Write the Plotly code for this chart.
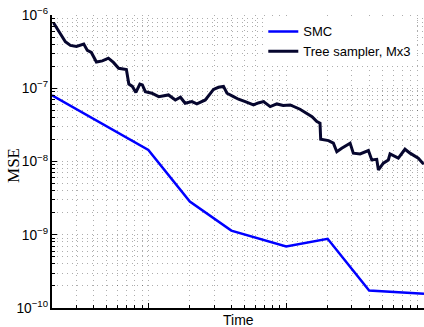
import plotly.graph_objects as go

# ---- data ----
smc_time = [2, 10, 20, 40, 100, 200, 400, 1000]
smc_mse = [8.0e-8, 1.44e-8, 2.84e-9, 1.14e-9, 6.9e-10, 8.8e-10, 1.73e-10, 1.56e-10]

tree_time = [2.05, 2.50, 2.72, 3.01, 3.40, 3.61, 3.86, 4.20, 4.64, 5.13,
             5.58, 6.09, 6.93, 7.22, 7.66, 8.12, 8.68, 9.05, 9.51, 10.6,
             11.9, 12.9, 14.0, 15.7, 17.1, 18.5, 20.7, 22.5, 25.9, 29.7,
             32.3, 35.1, 37.2, 41.5, 45.1, 50.5, 57.9, 62.7, 68.5, 76.6,
             85.6, 95.1, 107, 126, 141, 154, 167, 176, 178, 203,
             220, 233, 253, 291, 307, 344, 395, 418, 454, 467,
             507, 551, 567, 617, 651, 728, 792, 909, 979, 1000]
tree_mse = [7.85e-7, 4.32e-7, 3.84e-7, 3.72e-7, 4.02e-7, 3.28e-7, 3.08e-7, 2.28e-7, 2.36e-7, 2.57e-7,
            2.25e-7, 1.87e-7, 1.80e-7, 1.14e-7, 1.06e-7, 8.76e-8, 1.14e-7, 1.11e-7, 8.99e-8, 8.55e-8,
            7.68e-8, 7.85e-8, 8.10e-8, 6.92e-8, 7.54e-8, 6.24e-8, 6.56e-8, 6.14e-8, 6.92e-8, 9.63e-8,
            1.03e-7, 1.06e-7, 8.55e-8, 7.68e-8, 7.08e-8, 6.56e-8, 5.92e-8, 6.30e-8, 6.56e-8, 5.61e-8,
            6.11e-8, 5.83e-8, 5.92e-8, 5.17e-8, 4.56e-8, 4.10e-8, 3.50e-8, 3.33e-8, 2.01e-8, 1.93e-8,
            1.78e-8, 1.36e-8, 1.52e-8, 1.78e-8, 1.30e-8, 1.27e-8, 1.41e-8, 1.05e-8, 1.07e-8, 7.68e-9,
            9.48e-9, 1.05e-8, 1.27e-8, 1.17e-8, 1.11e-8, 1.47e-8, 1.30e-8, 1.11e-8, 9.48e-9, 9.57e-9]

series_names = ["SMC", "Tree sampler, Mx3"]
x_title = "Time"
y_title = "MSE"

fig = go.Figure()
fig.add_trace(go.Scatter(x=smc_time, y=smc_mse, mode="lines", name=series_names[0],
                         line=dict(color="#0000ff", width=2.5)))
fig.add_trace(go.Scatter(x=tree_time, y=tree_mse, mode="lines", name=series_names[1],
                         line=dict(color="#06062e", width=3)))

grid_col = "rgba(0,0,0,0.32)"
grid_dash = "1px,4px"

fig.update_xaxes(type="log", range=[0.30103, 3], dtick=1, showticklabels=False,
                 showgrid=True, gridcolor=grid_col, griddash=grid_dash, gridwidth=1,
                 ticks="inside", ticklen=5, tickcolor="black",
                 showline=True, linecolor="black", linewidth=1.5, mirror=False,
                 zeroline=False, automargin=False,
                 minor=dict(dtick="D1", showgrid=True, gridcolor=grid_col, griddash=grid_dash,
                            ticks="inside", ticklen=3, tickcolor="black"))
fig.update_yaxes(type="log", range=[-10, -6], dtick=1, exponentformat="power",
                 showexponent="all",
                 tickfont=dict(family="Liberation Sans, Arial", size=11, color="black"),
                 showgrid=True, gridcolor=grid_col, griddash=grid_dash, gridwidth=1,
                 ticks="inside", ticklen=5, tickcolor="black",
                 showline=True, linecolor="black", linewidth=1.5, mirror=False,
                 zeroline=False, automargin=False,
                 minor=dict(dtick="D1", showgrid=True, gridcolor=grid_col, griddash=grid_dash,
                            ticks="inside", ticklen=3, tickcolor="black"))

fig.add_annotation(text=x_title, xref="paper", yref="paper", x=0.5, y=-0.04,
                   xanchor="center", yanchor="middle", showarrow=False,
                   font=dict(family="Liberation Sans, Arial", size=14, color="black"))
fig.add_annotation(text=y_title, xref="paper", yref="paper", x=-0.102, y=0.485,
                   xanchor="center", yanchor="middle", showarrow=False, textangle=-90,
                   font=dict(family="Liberation Serif, Times New Roman", size=17, color="black"))

fig.update_layout(
    width=424, height=327,
    margin=dict(l=52, r=0, t=15, b=19),
    paper_bgcolor="white", plot_bgcolor="white",
    font=dict(family="Liberation Sans, Arial", color="black"),
    showlegend=True,
    legend=dict(x=0.568, y=0.995, xanchor="left", yanchor="top", bgcolor="white",
                borderwidth=0, font=dict(family="Liberation Sans, Arial", size=13, color="black"),
                itemwidth=30, tracegroupgap=0),
)

fig.write_html("out.html", config={"displayModeBar": False},
               post_script="document.body.style.margin='0px';document.body.style.overflow='hidden';")
